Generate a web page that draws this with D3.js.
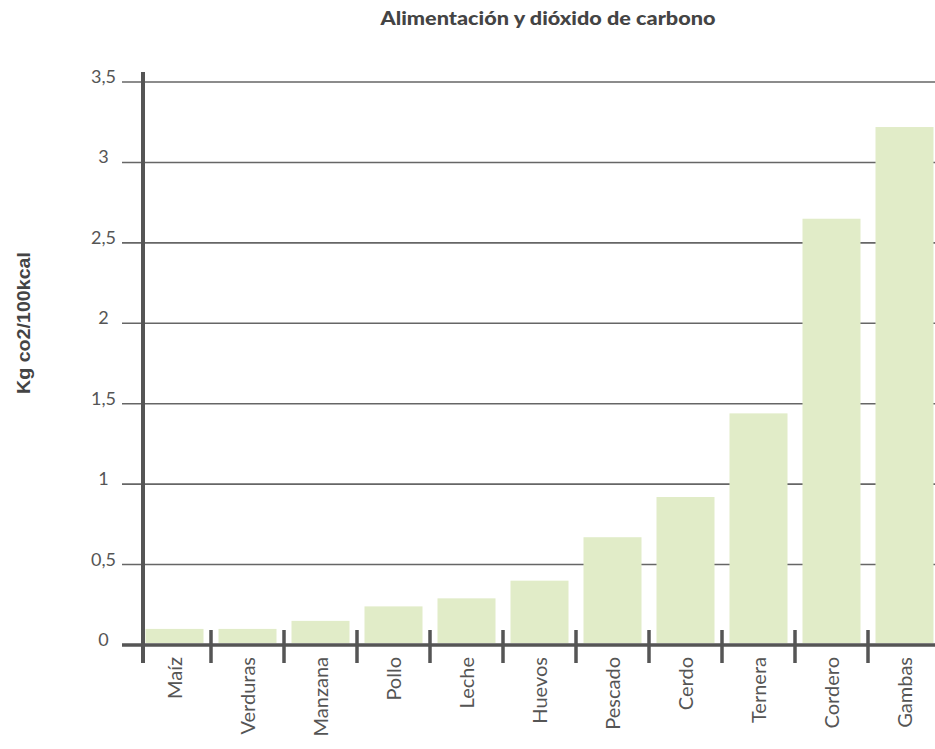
<!DOCTYPE html>
<html>
<head>
<meta charset="utf-8">
<script src="https://cdn.jsdelivr.net/npm/d3@7"></script>
<style>
  body { margin: 0; background: #fff; }
  svg { display: block; font-family: "Lato", "Open Sans", sans-serif; }
</style>
</head>
<body>
<div id="chart"></div>
<script>
const categories = ["Maíz", "Verduras", "Manzana", "Pollo", "Leche", "Huevos", "Pescado", "Cerdo", "Ternera", "Cordero", "Gambas"];
const values = [0.1, 0.1, 0.15, 0.24, 0.29, 0.4, 0.67, 0.92, 1.44, 2.65, 3.22];
const yTicks = [0, 0.5, 1, 1.5, 2, 2.5, 3, 3.5];

const width = 935, height = 749;
const svg = d3.select("#chart").append("svg")
    .attr("width", width)
    .attr("height", height);

// plot area
const axisX = 143, y0 = 645, yTop = 82;
const step = 73;
const pad = 15 / step;

const x = d3.scaleBand()
    .domain(categories)
    .range([138, 138 + step * categories.length])
    .paddingInner(pad)
    .paddingOuter(pad / 2);

const y = d3.scaleLinear()
    .domain([0, 3.5])
    .range([y0, yTop]);

const fmt = d => String(d).replace(".", ",");

// Title
svg.append("text")
    .attr("x", 548)
    .attr("y", 25)
    .attr("text-anchor", "middle")
    .attr("textLength", 335)
    .attr("lengthAdjust", "spacingAndGlyphs")
    .style("fill", "#444")
    .style("font-size", "19px")
    .style("font-weight", 900)
    .text("Alimentación y dióxido de carbono");

// Y title
svg.append("text")
    .attr("transform", `translate(30,323) rotate(-90)`)
    .attr("text-anchor", "middle")
    .attr("textLength", 142)
    .attr("lengthAdjust", "spacingAndGlyphs")
    .style("fill", "#444")
    .style("font-family", "'Liberation Sans', Arial, sans-serif")
    .style("font-size", "19px")
    .style("font-weight", "bold")
    .text("Kg co2/100kcal");

// Gridlines + tick labels
const grid = svg.append("g");
grid.selectAll("line")
    .data(yTicks.filter(d => d > 0))
    .enter().append("line")
    .attr("x1", 122)
    .attr("x2", width)
    .attr("y1", d => y(d))
    .attr("y2", d => y(d))
    .style("stroke", "#666")
    .style("stroke-width", 1.6);

grid.selectAll("text")
    .data(yTicks)
    .enter().append("text")
    .attr("x", 103.5)
    .attr("y", d => y(d) + 1)
    .attr("text-anchor", "middle")
    .style("fill", "#555")
    .style("font-size", "18px")
    .text(fmt);

// Bars
svg.append("g").selectAll("rect")
    .data(categories)
    .enter().append("rect")
    .attr("x", d => x(d))
    .attr("width", x.bandwidth())
    .attr("y", (d, i) => y(values[i]))
    .attr("height", (d, i) => y0 - 2 - y(values[i]))
    .style("fill", "#e1ecc8");

// X axis line
svg.append("line")
    .attr("x1", 122).attr("x2", width)
    .attr("y1", y0).attr("y2", y0)
    .style("stroke", "#555")
    .style("stroke-width", 3.5);

// band separators
svg.append("g").selectAll("line")
    .data(categories.slice(1))
    .enter().append("line")
    .attr("x1", d => x(d) - pad * step / 2)
    .attr("x2", d => x(d) - pad * step / 2)
    .attr("y1", 630).attr("y2", 663)
    .style("stroke", "#555")
    .style("stroke-width", 3.5);

// Y axis line
svg.append("line")
    .attr("x1", axisX).attr("x2", axisX)
    .attr("y1", 72).attr("y2", 663)
    .style("stroke", "#555")
    .style("stroke-width", 4);

// X labels
svg.append("g").selectAll("text")
    .data(categories)
    .enter().append("text")
    .attr("transform", d => `translate(${x(d) + x.bandwidth() / 2 + 7},657) rotate(-90)`)
    .attr("text-anchor", "end")
    .style("fill", "#555")
    .style("font-size", "20px")
    .text(d => d);
</script>
</body>
</html>
